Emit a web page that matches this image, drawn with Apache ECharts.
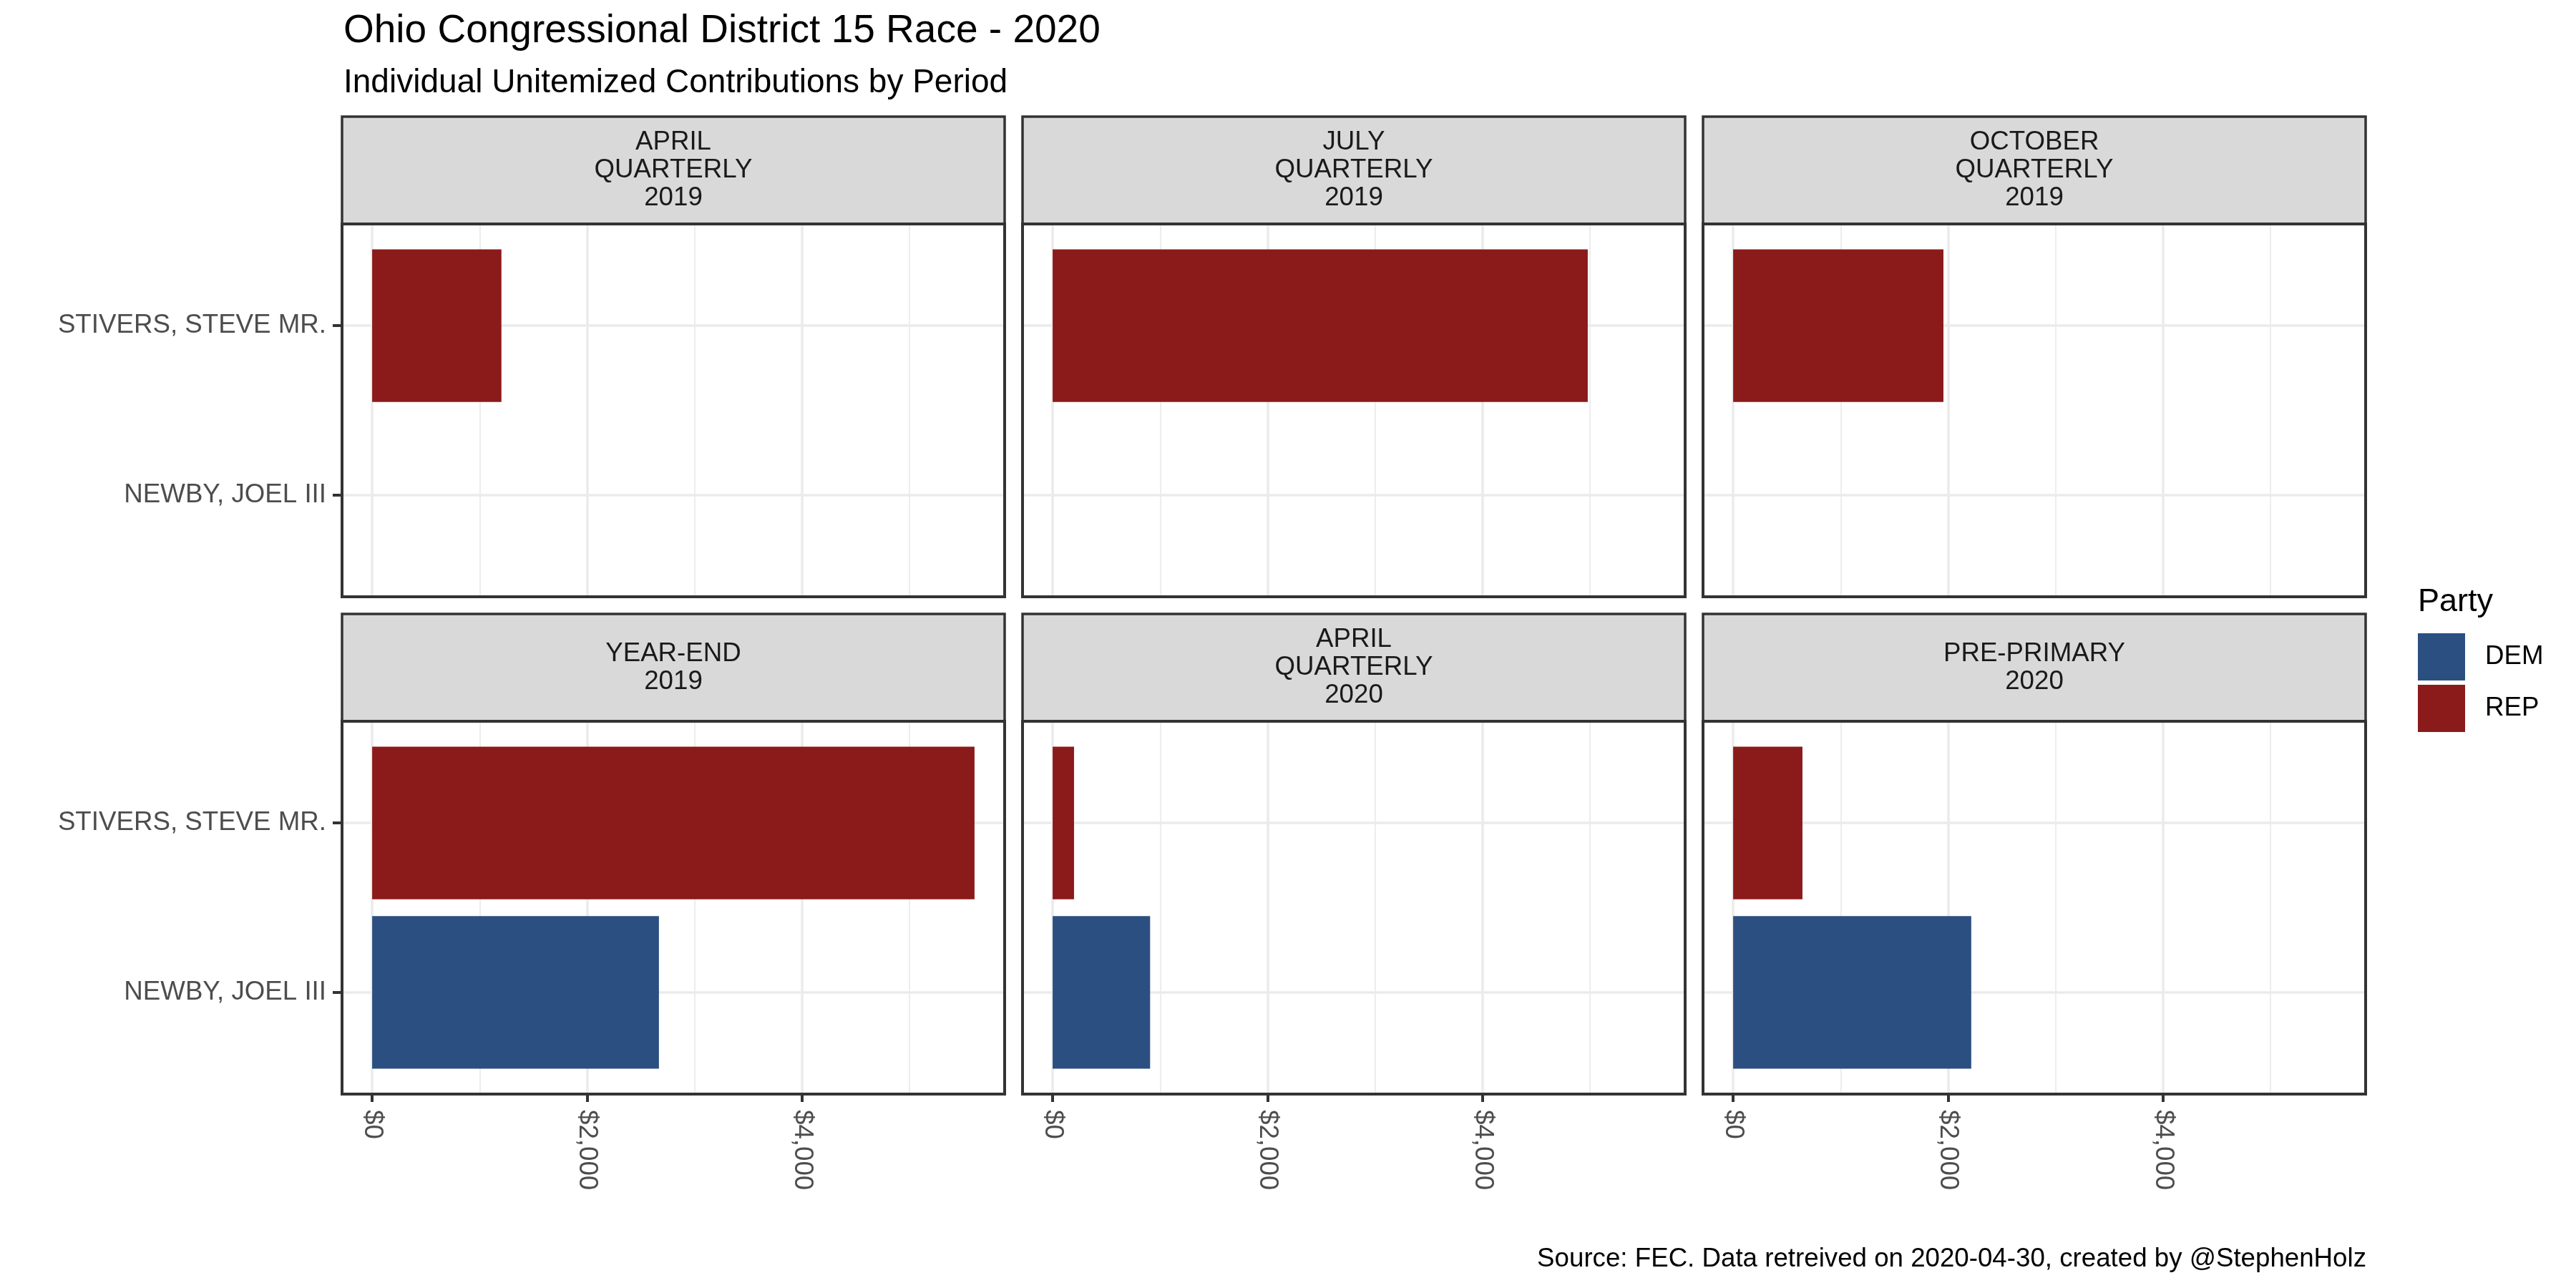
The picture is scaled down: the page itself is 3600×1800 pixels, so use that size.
<!DOCTYPE html>
<html><head><meta charset="utf-8">
<script src="https://cdn.jsdelivr.net/npm/echarts@6/dist/echarts.min.js"></script>
<style>html,body{margin:0;padding:0;background:#fff}#c{width:3600px;height:1800px}</style>
</head><body><div id="c"></div>
<script>
// ---- data ----
const periods = ['APRIL\nQUARTERLY\n2019', 'JULY\nQUARTERLY\n2019', 'OCTOBER\nQUARTERLY\n2019',
                 'YEAR-END\n2019', 'APRIL\nQUARTERLY\n2020', 'PRE-PRIMARY\n2020'];
const candidates = ['NEWBY, JOEL III', 'STIVERS, STEVE MR.'];
const parties = ['DEM', 'REP'];
const demValues = [null, null, null, 2669, 907, 2216];   // NEWBY, JOEL III
const repValues = [1203, 4980, 1957, 5606, 199, 645];    // STIVERS, STEVE MR.
const xTickValues = [0, 2000, 4000];
const partyColors = { DEM: '#2C4F82', REP: '#8B1A1A' };

// ---- layout ----
const FONT = 'Liberation Sans, Arial, sans-serif';
const colLeft = [478, 1429, 2380];
const panelW = 926;
const rowTop = [313, 1008];
const panelH = 521;
const stripH = 150;

const allVals = demValues.concat(repValues).filter(v => v != null);
const dataMax = Math.max.apply(null, allVals);
const xMin = -0.05 * dataMax, xMax = dataMax * 1.05;

const grids = [], xAxes = [], yAxes = [], series = [], graphics = [];

function renderBar(params, api) {
  const v = api.value(0), c = api.value(1);
  const p0 = api.coord([0, c]);
  const p1 = api.coord([v, c]);
  const h = api.size([0, 0.9])[1];
  return { type: 'rect', shape: { x: p0[0], y: p0[1] - h / 2, width: p1[0] - p0[0], height: h },
           style: { fill: api.visual('color') } };
}

periods.forEach((p, i) => {
  const r = Math.floor(i / 3), c = i % 3;
  const left = colLeft[c], top = rowTop[r];
  const bottomRow = r === 1, leftCol = c === 0;
  grids.push({ left: left, top: top, width: panelW, height: panelH, containLabel: false });
  xAxes.push({
    type: 'value', gridIndex: i, position: 'bottom', min: xMin, max: xMax, minInterval: 2000, maxInterval: 2000,
    axisLine: { show: false, onZero: false },
    axisTick: { show: bottomRow, length: 11, customValues: xTickValues, lineStyle: { color: '#333333', width: 4 } },
    axisLabel: { show: bottomRow, customValues: xTickValues, rotate: -90, margin: 22, fontSize: 36.7,
                 color: '#4D4D4D', fontFamily: FONT,
                 formatter: v => '$' + Math.round(v).toLocaleString('en-US') },
    splitLine: { show: true, lineStyle: { color: '#EBEBEB', width: 3.6 } },
    minorTick: { show: false, splitNumber: 2 },
    minorSplitLine: { show: true, lineStyle: { color: '#EBEBEB', width: 1.8 } }
  });
  yAxes.push({
    type: 'value', gridIndex: i, position: 'left', min: -0.6, max: 1.6,
    axisLine: { show: false, onZero: false },
    axisTick: { show: leftCol, length: 13, customValues: [0, 1], lineStyle: { color: '#333333', width: 4 } },
    axisLabel: { show: leftCol, customValues: [0, 1], margin: 22, fontSize: 36.7, color: '#4D4D4D', fontFamily: FONT,
                 formatter: v => candidates[Math.round(v)] },
    splitLine: { show: true, lineStyle: { color: '#EBEBEB', width: 3.6 } },
    minorSplitLine: { show: false }
  });
  series.push({
    type: 'custom', name: 'DEM', xAxisIndex: i, yAxisIndex: i, renderItem: renderBar,
    itemStyle: { color: partyColors.DEM },
    data: demValues[i] == null ? [] : [[demValues[i], 0]]
  });
  series.push({
    type: 'custom', name: 'REP', xAxisIndex: i, yAxisIndex: i, renderItem: renderBar,
    itemStyle: { color: partyColors.REP },
    data: repValues[i] == null ? [] : [[repValues[i], 1]]
  });
  // strip
  graphics.push({ type: 'rect', z: 50, shape: { x: left, y: top - stripH, width: panelW, height: stripH },
                  style: { fill: '#D9D9D9', stroke: '#333333', lineWidth: 3.5 } });
  graphics.push({ type: 'text', z: 51, x: left + panelW / 2, y: top - stripH / 2,
                  style: { text: p, fill: '#1A1A1A', font: '36.7px ' + FONT, align: 'center',
                           verticalAlign: 'middle', lineHeight: 39 } });
  // panel border
  graphics.push({ type: 'rect', z: 50, shape: { x: left, y: top, width: panelW, height: panelH },
                  style: { fill: 'none', stroke: '#333333', lineWidth: 4 } });
});

graphics.push({ type: 'text', x: 480, y: 44, style: { text: 'Ohio Congressional District 15 Race - 2020',
  fill: '#000', font: '55px ' + FONT, align: 'left', verticalAlign: 'middle' } });
graphics.push({ type: 'text', x: 480, y: 116, style: { text: 'Individual Unitemized Contributions by Period',
  fill: '#000', font: '46px ' + FONT, align: 'left', verticalAlign: 'middle' } });
graphics.push({ type: 'text', x: 3307, y: 1760, style: { text: 'Source: FEC. Data retreived on 2020-04-30, created by @StephenHolz',
  fill: '#000', font: '36.7px ' + FONT, align: 'right', verticalAlign: 'middle' } });
graphics.push({ type: 'text', x: 3379, y: 842, style: { text: 'Party',
  fill: '#000', font: '45px ' + FONT, align: 'left', verticalAlign: 'middle' } });

const chart = echarts.init(document.getElementById('c'), null, { renderer: 'canvas' });
chart.setOption({
  backgroundColor: '#ffffff',
  animation: false,
  grid: grids, xAxis: xAxes, yAxis: yAxes, series: series,
  legend: { data: parties, orient: 'vertical', left: 3379, top: 885, itemWidth: 66, itemHeight: 66, itemGap: 6,
            icon: 'rect', padding: 0, selectedMode: false,
            itemStyle: { borderWidth: 0 },
            textStyle: { fontSize: 36.7, color: '#000', fontFamily: FONT, padding: [0, 0, 0, 23] } },
  graphic: graphics
});
</script></body></html>
